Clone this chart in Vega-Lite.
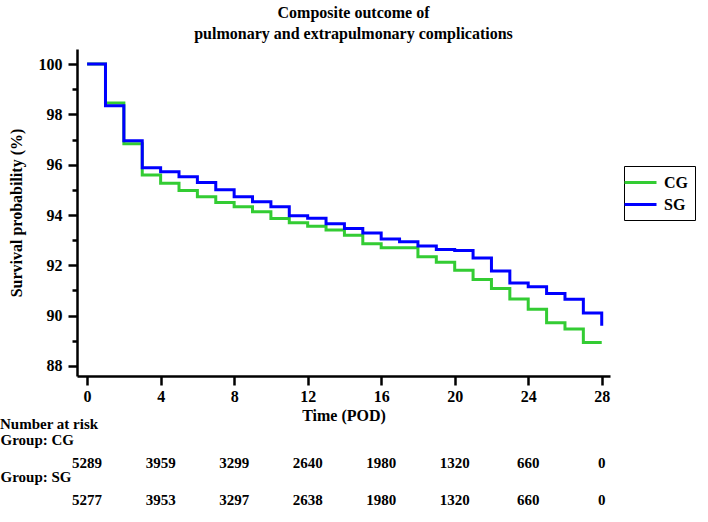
{
  "$schema": "https://vega.github.io/schema/vega-lite/v6.json",
  "padding": {"left": 0, "top": 5, "right": 5, "bottom": 0},
  "background": "white",
  "spacing": -6,
  "config": {
    "font": "Liberation Serif",
    "view": {"stroke": null},
    "axis": {
      "labelFont": "Liberation Serif", "labelFontWeight": "bold", "labelFontSize": 16, "labelColor": "black",
      "titleFont": "Liberation Serif", "titleFontWeight": "bold", "titleFontSize": 16, "titleColor": "black",
      "grid": false, "domainColor": "black", "tickColor": "black", "domainWidth": 2.5, "tickWidth": 2.5
    },
    "title": {"font": "Liberation Serif", "fontWeight": "bold", "fontSize": 16, "color": "black"},
    "legend": {"labelFont": "Liberation Serif", "labelFontWeight": "bold", "labelFontSize": 16, "labelColor": "black"}
  },
  "datasets": {
    "km": [
      {"group": "CG", "day": 0, "surv": 100}, {"group": "CG", "day": 1, "surv": 98.45}, {"group": "CG", "day": 2, "surv": 96.83},
      {"group": "CG", "day": 3, "surv": 95.59}, {"group": "CG", "day": 4, "surv": 95.26}, {"group": "CG", "day": 5, "surv": 94.97},
      {"group": "CG", "day": 6, "surv": 94.73}, {"group": "CG", "day": 7, "surv": 94.5}, {"group": "CG", "day": 8, "surv": 94.33},
      {"group": "CG", "day": 9, "surv": 94.13}, {"group": "CG", "day": 10, "surv": 93.86}, {"group": "CG", "day": 11, "surv": 93.69},
      {"group": "CG", "day": 12, "surv": 93.55}, {"group": "CG", "day": 13, "surv": 93.4}, {"group": "CG", "day": 14, "surv": 93.2},
      {"group": "CG", "day": 15, "surv": 92.86}, {"group": "CG", "day": 16, "surv": 92.7}, {"group": "CG", "day": 17, "surv": 92.7},
      {"group": "CG", "day": 18, "surv": 92.34}, {"group": "CG", "day": 19, "surv": 92.12}, {"group": "CG", "day": 20, "surv": 91.8},
      {"group": "CG", "day": 21, "surv": 91.44}, {"group": "CG", "day": 22, "surv": 91.08}, {"group": "CG", "day": 23, "surv": 90.66},
      {"group": "CG", "day": 24, "surv": 90.25}, {"group": "CG", "day": 25, "surv": 89.72}, {"group": "CG", "day": 26, "surv": 89.47},
      {"group": "CG", "day": 27, "surv": 88.93}, {"group": "CG", "day": 28, "surv": 88.93},
      {"group": "SG", "day": 0, "surv": 100}, {"group": "SG", "day": 1, "surv": 98.34}, {"group": "SG", "day": 2, "surv": 96.95},
      {"group": "SG", "day": 3, "surv": 95.88}, {"group": "SG", "day": 4, "surv": 95.72}, {"group": "SG", "day": 5, "surv": 95.52},
      {"group": "SG", "day": 6, "surv": 95.29}, {"group": "SG", "day": 7, "surv": 95.0}, {"group": "SG", "day": 8, "surv": 94.73},
      {"group": "SG", "day": 9, "surv": 94.53}, {"group": "SG", "day": 10, "surv": 94.33}, {"group": "SG", "day": 11, "surv": 93.97},
      {"group": "SG", "day": 12, "surv": 93.87}, {"group": "SG", "day": 13, "surv": 93.65}, {"group": "SG", "day": 14, "surv": 93.46},
      {"group": "SG", "day": 15, "surv": 93.29}, {"group": "SG", "day": 16, "surv": 93.05}, {"group": "SG", "day": 17, "surv": 92.94},
      {"group": "SG", "day": 18, "surv": 92.77}, {"group": "SG", "day": 19, "surv": 92.63}, {"group": "SG", "day": 20, "surv": 92.59},
      {"group": "SG", "day": 21, "surv": 92.29}, {"group": "SG", "day": 22, "surv": 91.77}, {"group": "SG", "day": 23, "surv": 91.3},
      {"group": "SG", "day": 24, "surv": 91.15}, {"group": "SG", "day": 25, "surv": 90.88}, {"group": "SG", "day": 26, "surv": 90.65},
      {"group": "SG", "day": 27, "surv": 90.1}, {"group": "SG", "day": 28, "surv": 89.6}
    ],
    "risk": [
      {"group": "CG", "day": 0, "n": "5289"}, {"group": "CG", "day": 4, "n": "3959"}, {"group": "CG", "day": 8, "n": "3299"},
      {"group": "CG", "day": 12, "n": "2640"}, {"group": "CG", "day": 16, "n": "1980"}, {"group": "CG", "day": 20, "n": "1320"},
      {"group": "CG", "day": 24, "n": "660"}, {"group": "CG", "day": 28, "n": "0"},
      {"group": "SG", "day": 0, "n": "5277"}, {"group": "SG", "day": 4, "n": "3953"}, {"group": "SG", "day": 8, "n": "3297"},
      {"group": "SG", "day": 12, "n": "2638"}, {"group": "SG", "day": 16, "n": "1980"}, {"group": "SG", "day": 20, "n": "1320"},
      {"group": "SG", "day": 24, "n": "660"}, {"group": "SG", "day": 28, "n": "0"}
    ]
  },
  "vconcat": [
    {
      "width": 533,
      "height": 327,
      "title": {"text": ["Composite outcome of", "pulmonary and extrapulmonary complications"], "lineHeight": 21, "offset": 7, "anchor": "middle", "dx": 10},
      "data": {"name": "km"},
      "mark": {"type": "line", "interpolate": "step-after", "strokeWidth": 3},
      "encoding": {
        "x": {
          "field": "day", "type": "quantitative",
          "scale": {"domain": [-0.55, 28.45], "nice": false, "zero": false},
          "axis": {"values": [0, 4, 8, 12, 16, 20, 24, 28], "title": "Time  (POD)", "tickSize": 9, "labelPadding": 3, "titlePadding": 3, "labelFlush": false}
        },
        "y": {
          "field": "surv", "type": "quantitative",
          "scale": {"domain": [87.6, 100.6], "nice": false, "zero": false},
          "axis": {
            "values": [88, 89, 90, 91, 92, 93, 94, 95, 96, 97, 98, 99, 100],
            "labelExpr": "datum.value % 2 === 0 ? datum.label : ''",
            "tickSize": {"condition": {"test": "datum.value % 2 !== 0", "value": 5}, "value": 9},
            "labelPadding": 6, "labelOverlap": false, "labelFlush": false,
            "title": "Survival probability (%)", "titlePadding": 14
          }
        },
        "color": {
          "field": "group", "type": "nominal",
          "scale": {"domain": ["CG", "SG"], "range": ["#33cc33", "#0000ff"]},
          "legend": {
            "title": null, "orient": "none", "legendX": 547, "legendY": 117,
            "strokeColor": "black", "padding": 7,
            "symbolType": "M-2,0H2", "symbolSize": 256, "symbolStrokeWidth": 3,
            "labelOffset": 14, "rowPadding": 4
          }
        }
      }
    },
    {
      "width": 533,
      "height": 37,
      "title": {"text": "Number at risk", "anchor": "start", "frame": "bounds", "offset": 0, "fontSize": 15},
      "data": {"name": "risk"},
      "mark": {"type": "text", "fontSize": 15, "fontWeight": "bold", "font": "Liberation Serif", "color": "black"},
      "encoding": {
        "x": {"field": "day", "type": "quantitative", "scale": {"domain": [-0.55, 28.45], "nice": false, "zero": false}, "axis": null},
        "y": {
          "field": "group", "type": "nominal",
          "scale": {"type": "point", "domain": ["CG", "SG"], "padding": 0},
          "axis": {"title": null, "domain": false, "ticks": false, "tickSize": 0, "labelFontSize": 15, "labelAlign": "left", "labelPadding": 77, "labelOffset": -24, "labelExpr": "'Group: ' + datum.value"}
        },
        "text": {"field": "n", "type": "nominal"}
      }
    }
  ]
}
